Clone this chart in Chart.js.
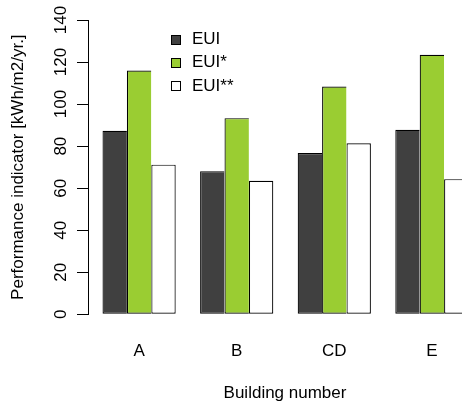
<!DOCTYPE html>
<html>
<head>
<meta charset="utf-8">
<script src="https://cdn.jsdelivr.net/npm/chart.js@4"></script>
<style>
  html, body { margin: 0; padding: 0; background: #fff; overflow: hidden; }
  #wrap { width: 462px; height: 404px; overflow: hidden; }
  canvas { display: block; }
</style>
</head>
<body>
<div id="wrap"><canvas id="chart" width="500" height="404"></canvas></div>
<script>
// Buildings and energy use intensity per building
const categories = ['A', 'B', 'CD', 'E'];
const seriesNames = ['EUI', 'EUI*', 'EUI**'];
const euiValues = [87.3, 68.1, 76.7, 87.8];
const euiStarValues = [116.0, 93.3, 108.4, 123.5];
const euiDoubleStarValues = [71.2, 63.5, 81.4, 64.3];
const yTickValues = [0, 20, 40, 60, 80, 100, 120, 140];

const seriesColors = ['#404040', '#9acd32', '#ffffff'];
const seriesValues = [euiValues, euiStarValues, euiDoubleStarValues];

const FONT = '"Liberation Sans", Arial, Helvetica, sans-serif';
Chart.defaults.font.family = FONT;
Chart.defaults.font.size = 17;
Chart.defaults.color = '#000';

// Legend drawn inside the plot region, top-left of the bars
const innerLegend = {
  id: 'innerLegend',
  afterDatasetsDraw(chart, args, opts) {
    const ctx = chart.ctx;
    ctx.save();
    ctx.font = opts.fontSize + 'px ' + FONT;
    ctx.textBaseline = 'middle';
    ctx.textAlign = 'left';
    chart.data.datasets.forEach((ds, i) => {
      const cy = opts.firstRowY + i * opts.rowGap;
      const bx = opts.boxX, s = opts.boxSize;
      const by = Math.round(cy - s / 2);
      ctx.fillStyle = ds.backgroundColor;
      ctx.fillRect(bx, by, s, s);
      ctx.strokeStyle = '#000';
      ctx.lineWidth = 1;
      ctx.strokeRect(bx + 0.5, by + 0.5, s - 1, s - 1);
      ctx.fillStyle = '#000';
      ctx.fillText(ds.label, opts.textX, cy);
    });
    ctx.restore();
  }
};

const sideBorder = { top: 1.2, left: 1.2, bottom: 1.2, right: 0 };
const fullBorder = { top: 1.2, left: 1.2, bottom: 1.2, right: 1.2 };

const datasets = seriesNames.map((name, s) => ({
  label: name,
  data: seriesValues[s].map((v, i) => ({ x: i, y: v })),
  backgroundColor: seriesColors[s],
  borderColor: '#000',
  borderWidth: s === seriesNames.length - 1 ? fullBorder : sideBorder,
  borderSkipped: false,
  categoryPercentage: 0.75,
  barPercentage: 1.0
}));

new Chart(document.getElementById('chart'), {
  type: 'bar',
  data: { datasets },
  plugins: [innerLegend],
  options: {
    responsive: false,
    animation: false,
    events: [],
    layout: { padding: { top: 20, right: 18, bottom: 0, left: 0 } },
    plugins: {
      legend: { display: false },
      tooltip: { enabled: false },
      innerLegend: { boxX: 171, boxSize: 10, textX: 192, firstRowY: 39.5, rowGap: 23.3, fontSize: 17 }
    },
    scales: {
      x: {
        type: 'linear',
        min: -0.5236,
        max: 3.5134,
        offset: false,
        grid: { display: false, drawTicks: false },
        border: { display: false },
        ticks: {
          stepSize: 1,
          includeBounds: false,
          autoSkip: false,
          maxRotation: 0,
          padding: 27.2,
          callback: (v) => categories[v] !== undefined ? categories[v] : ''
        },
        title: {
          display: true,
          text: 'Building number',
          padding: { top: 0, bottom: 0.5 }
        },
        afterFit: (scale) => { scale.height = 89.7; }
      },
      y: {
        type: 'linear',
        min: 0,
        max: 140,
        afterBuildTicks: (scale) => { scale.ticks = yTickValues.map(v => ({ value: v })); },
        grid: { display: true, drawOnChartArea: false, drawTicks: true, tickLength: 11, color: '#000', lineWidth: 1 },
        border: { display: true, color: '#000', width: 1 },
        ticks: {
          minRotation: 90,
          maxRotation: 90,
          crossAlign: 'center',
          padding: 1.5
        },
        title: {
          display: true,
          text: 'Performance indicator [kWh/m2/yr.]',
          padding: { top: 8.5, bottom: 0 }
        },
        afterFit: (scale) => { scale.width = 88; }
      }
    }
  }
});
</script>
</body>
</html>
